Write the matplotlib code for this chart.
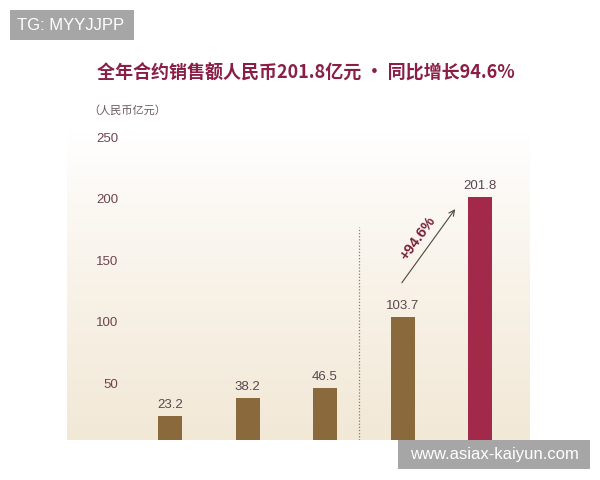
import numpy as np
import matplotlib.pyplot as plt
from matplotlib.colors import LinearSegmentedColormap
from matplotlib.patches import Rectangle

plt.rcParams['font.family'] = ['Noto Sans CJK SC', 'DejaVu Sans']
NUM_FONT = ['Liberation Sans', 'DejaVu Sans']

# Annual contracted sales (RMB 100 million)
values = [23.2, 38.2, 46.5, 103.7, 201.8]
bar_colors = ['#8a6a3c', '#8a6a3c', '#8a6a3c', '#8a6a3c', '#a3294a']
yticks = [50, 100, 150, 200, 250]
growth_label = '+94.6%'
title = '全年合约销售额人民币201.8亿元 · 同比增长94.6%'
unit_label = '（人民币亿元）'

W, H = 600, 480
fig = plt.figure(figsize=(6, 4.8), dpi=100)
fig.patch.set_facecolor('white')

ax = fig.add_axes([67/W, 40/H, 463/W, 310/H])
xlim = (-1.33, 4.645)
ylim = (4, 256)
ax.set_xlim(*xlim)
ax.set_ylim(*ylim)

# soft cream gradient behind the bars
cmap = LinearSegmentedColormap.from_list('bg', ['#f2e8d6', '#f8f2e8', '#ffffff'])
grad = np.linspace(0, 1, 256).reshape(-1, 1)
ax.imshow(grad, aspect='auto', cmap=cmap, origin='lower',
          extent=[xlim[0], xlim[1], ylim[0], ylim[1]], zorder=0)

x = np.arange(len(values))
ax.bar(x, values, width=0.31, color=bar_colors, zorder=2)
for xi, v in zip(x, values):
    ax.text(xi, v + 4, f'{v:.1f}', ha='center', va='bottom',
            fontsize=9.5, color='#5a4750', family=NUM_FONT, zorder=3)

for s in ax.spines.values():
    s.set_visible(False)
ax.set_xticks([])
ax.set_yticks(yticks)
ax.set_yticklabels([str(t) for t in yticks], family=NUM_FONT)
ax.tick_params(axis='y', length=0, pad=-37, labelsize=9.5, labelcolor='#6e4452')

# dotted divider before the latest two years
ax.plot([2.44, 2.44], [4, 177], linestyle=(0, (1, 1.5)), color='#8a7a70',
        linewidth=0.9, zorder=1)

# growth arrow
ax.annotate('', xy=(3.70, 193.5), xytext=(2.97, 130),
            arrowprops=dict(arrowstyle='->', color='#4a4a3a', lw=0.8), zorder=3)
ax.text(3.2, 168, growth_label, rotation=54, ha='center', va='center',
        fontsize=10.5, fontweight='bold', color='#7a1f3c',
        family=NUM_FONT, zorder=3)

fig.text(306/W, 1 - 73/H, title, ha='center', va='center',
         fontsize=13, fontweight='bold', color='#8a1f45')
fig.text(88/W, 1 - 110/H, unit_label, ha='left', va='center',
         fontsize=8, color='#6a5a60')

# corner tags
fig.add_artist(Rectangle((10/W, 1 - 40/H), 124/W, 30/H, transform=fig.transFigure,
                         facecolor='#a6a6a6', edgecolor='none'))
fig.text(17/W, 1 - 25/H, 'TG: MYYJJPP', ha='left', va='center',
         fontsize=12, color='white', family=NUM_FONT)
fig.add_artist(Rectangle((398/W, 1 - 469/H), 192/W, 29/H, transform=fig.transFigure,
                         facecolor='#a6a6a6', edgecolor='none'))
fig.text(494/W, 1 - 455/H, 'www.asiax-kaiyun.com', ha='center', va='center',
         fontsize=12, color='white', family=NUM_FONT)

fig.savefig('out.png', dpi=100)
